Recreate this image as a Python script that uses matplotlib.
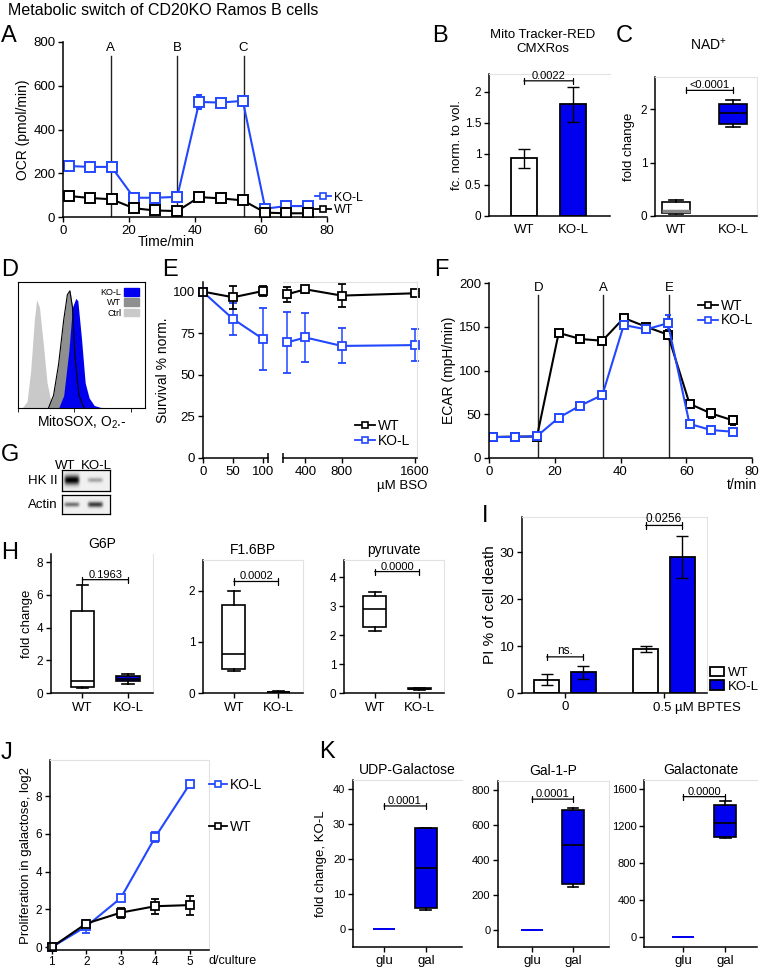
import numpy as np
import matplotlib
matplotlib.use('Agg')
import matplotlib.pyplot as plt
from matplotlib.lines import Line2D
from matplotlib.patches import Patch

plt.rcParams['font.family'] = ['Liberation Sans', 'DejaVu Sans']
plt.rcParams['mathtext.fontset'] = 'custom'
plt.rcParams['mathtext.rm'] = 'Liberation Sans'
plt.rcParams['mathtext.default'] = 'regular'

W, H = 762, 969
BLUE = '#0000ee'
LBLUE = '#2247ff'
LIGHT = '#e2e2e2'

# ---- A: OCR ----
ocr_time = [1.8, 8.1, 14.7, 21.5, 27.8, 34.6, 41.3, 47.8, 54.5, 61.3, 67.6, 74.1]
ocr_ko = [233, 229, 229, 88, 88, 92, 526, 523, 531, 38, 50, 50]
ocr_ko_err = [6, 4, 4, 4, 4, 4, 30, 12, 14, 4, 4, 4]
ocr_wt = [96, 87, 81, 40, 30, 27, 91, 85, 76, 20, 17, 17]
ocr_wt_err = [4, 4, 4, 4, 4, 4, 4, 4, 4, 3, 3, 3]
ocr_inject = [14.5, 34.6, 54.7]
ocr_inject_lab = ['A', 'B', 'C']

# ---- B: MitoTracker ----
b_groups = ['WT', 'KO-L']
b_vals = [0.93, 1.80]
b_err = [0.15, 0.28]

# ---- C: NAD+ (whislo, q1, med, q3, whishi) ----
c_wt = [0.03, 0.05, 0.09, 0.27, 0.30]
c_ko = [1.67, 1.73, 1.92, 2.10, 2.17]

# ---- D: MitoSOX histogram (decade position, relative count) ----
d_ctrl_x = [0.14, 0.32, 0.45, 0.58, 0.66, 0.76, 0.90, 1.03, 1.17, 1.30]
d_ctrl_y = [0.0, 0.05, 0.30, 0.70, 0.86, 0.80, 0.50, 0.20, 0.05, 0.0]
d_wt_x = [1.08, 1.26, 1.44, 1.62, 1.75, 1.84, 1.93, 2.02, 2.16, 2.34]
d_wt_y = [0.0, 0.10, 0.35, 0.70, 0.90, 0.93, 0.80, 0.40, 0.10, 0.0]
d_ko_x = [1.44, 1.62, 1.80, 1.93, 2.05, 2.12, 2.25, 2.38, 2.52, 2.70, 2.92, 3.40]
d_ko_y = [0.0, 0.10, 0.45, 0.80, 0.87, 0.85, 0.55, 0.20, 0.08, 0.02, 0.005, 0.0]

# ---- G: western blot band intensities ----
blot_lanes = ['WT', 'KO-L']
hk2_int = [0.95, 0.30]
actin_int = [0.50, 0.72]

# ---- E: BSO survival ----
bso = [0, 50, 100, 200, 400, 800, 1600]
surv_wt = [100.2, 96.8, 100.6, 98.6, 101.6, 97.8, 99.2]
surv_wt_err = [1.5, 6.8, 3.0, 4.5, 2.0, 7.0, 1.2]
surv_ko = [100.0, 83.7, 71.6, 69.6, 72.6, 67.5, 68.0]
surv_ko_err = [1.0, 9.5, 18.5, 18.3, 14.9, 10.5, 9.6]

# ---- F: ECAR ----
ecar_time = [1.2, 8.0, 14.6, 21.2, 27.8, 34.5, 41.0, 47.8, 54.4, 61.0, 67.5, 74.2]
ecar_wt = [24, 24.5, 24.5, 143, 136, 134, 160, 150, 141, 62, 51, 43]
ecar_wt_err = [1, 1, 1, 2, 2, 2, 2, 3, 5, 3, 5, 5]
ecar_ko = [24, 24, 25, 46, 60, 72, 152, 147, 154, 39, 32, 30]
ecar_ko_err = [1, 1, 1, 2, 2, 2, 4, 3, 9, 2, 2, 2]
ecar_inject = [15, 34.8, 54.8]
ecar_inject_lab = ['D', 'A', 'E']

# ---- H: metabolites (whislo, q1, med, q3, whishi) ----
g6p_wt = [0.30, 0.36, 0.75, 5.0, 6.62]
g6p_ko = [0.57, 0.71, 0.87, 1.07, 1.15]
f16bp_wt = [0.43, 0.47, 0.76, 1.72, 2.0]
f16bp_ko = [0.01, 0.015, 0.02, 0.025, 0.03]
pyr_wt = [2.15, 2.30, 2.90, 3.35, 3.50]
pyr_ko = [0.12, 0.14, 0.15, 0.16, 0.18]

# ---- I: BPTES ----
i_doses = ['0', '0.5']
i_wt = [2.86, 9.4]
i_wt_err = [1.25, 0.6]
i_ko = [4.4, 28.9]
i_ko_err = [1.35, 4.5]

# ---- J: galactose proliferation ----
days = [1, 2, 3, 4, 5]
prolif_ko = [0.0, 1.10, 2.60, 5.83, 8.64]
prolif_ko_err = [0.05, 0.35, 0.15, 0.25, 0.15]
prolif_wt = [0.0, 1.25, 1.83, 2.17, 2.23]
prolif_wt_err = [0.05, 0.12, 0.26, 0.40, 0.50]

# ---- K: galactose metabolites, KO-L (whislo, q1, med, q3, whishi) ----
udp_glu = [0, 0, 0, 0, 0]
udp_gal = [5.6, 6.0, 17.4, 28.9, 29.0]
gal1p_glu = [0, 0, 0, 0, 0]
gal1p_gal = [242, 261, 486, 686, 697]
galn_glu = [0, 0, 0, 0, 0]
galn_gal = [1065, 1085, 1236, 1427, 1467]


def add_ax(l, t, r, b):
    return fig.add_axes([l / W, 1 - b / H, (r - l) / W, (b - t) / H])


def ftext(x, y, s, **kw):
    fig.text(x / W, 1 - y / H, s, **kw)


def style(ax, light=(), fs=9):
    for s in ['top', 'right']:
        if s in light:
            ax.spines[s].set_color(LIGHT)
            ax.spines[s].set_linewidth(0.8)
        else:
            ax.spines[s].set_visible(False)
    for s in ['left', 'bottom']:
        ax.spines[s].set_linewidth(1.1)
    ax.tick_params(direction='out', length=3.5, width=1, pad=2, labelsize=fs)


def sig(ax, x1, x2, y, label, fs=8):
    ax.annotate('', xy=(x1, y), xytext=(x2, y), annotation_clip=False,
                arrowprops=dict(arrowstyle='|-|, widthA=0.22, widthB=0.22', lw=0.9,
                                color='black', shrinkA=0, shrinkB=0))
    ax.text((x1 + x2) / 2, y, label, ha='center', va='bottom', fontsize=fs)


def boxes(ax, stats, positions, faces, edges=None, meds=None, width=0.5):
    edges = edges or ['black'] * len(stats)
    meds = meds or edges
    for s, p, fc, ec, mc in zip(stats, positions, faces, edges, meds):
        st = dict(whislo=s[0], q1=s[1], med=s[2], q3=s[3], whishi=s[4], fliers=[])
        ax.bxp([st], positions=[p], widths=width, showfliers=False, patch_artist=True,
               manage_ticks=False, capwidths=width * 0.5,
               boxprops=dict(facecolor=fc, edgecolor=ec, lw=1.2),
               medianprops=dict(color=mc, lw=1.2 if mc == ec else 2.5),
               whiskerprops=dict(color=ec, lw=1.2), capprops=dict(color=ec, lw=1.2))


def sq_handle(col, ms=5):
    return Line2D([], [], color=col, marker='s', mfc='white', ms=ms, mew=1.2, lw=1.3)


fig = plt.figure(figsize=(W / 100, H / 100), dpi=100)

ftext(8, 3, 'Metabolic switch of CD20KO Ramos B cells', fontsize=11.5, va='top')
for lab, x, y in [('A', 1, 25), ('B', 432, 25), ('C', 616, 25), ('D', 1, 259), ('E', 162, 259),
                  ('F', 434, 259), ('G', 1, 444), ('H', 1, 542), ('I', 482, 505),
                  ('J', 1, 742), ('K', 319, 741)]:
    ftext(x, y, lab, fontsize=17, va='top')

# ================= A =================
ax = add_ax(63, 42, 327, 217)
style(ax, fs=9.5)
for xv, lab in zip(ocr_inject, ocr_inject_lab):
    ax.plot([xv, xv], [0, 735], color='#222222', lw=1)
    ax.text(xv, 772, lab, ha='center', va='center', fontsize=9.5)
ax.errorbar(ocr_time, ocr_ko, yerr=ocr_ko_err, color=LBLUE, marker='s', mfc='white', ms=6.5,
            mew=1.4, lw=1.5, capsize=2.5, elinewidth=1.2)
ax.errorbar(ocr_time, ocr_wt, yerr=ocr_wt_err, color='black', marker='s', mfc='white', ms=6.5,
            mew=1.4, lw=1.5, capsize=2.5, elinewidth=1.2)
ax.set_xlim(0, 80)
ax.set_ylim(0, 800)
ax.set_xticks([0, 20, 40, 60, 80])
ax.set_yticks([0, 200, 400, 600, 800])
ax.set_ylabel('OCR (pmol/min)', fontsize=10, labelpad=2)
ax.set_xlabel('Time/min', fontsize=10, labelpad=1)
ax.xaxis.set_label_coords(0.39, -0.1)
ax.legend(handles=[sq_handle(LBLUE), sq_handle('black')], labels=['KO-L', 'WT'],
          loc='center left', bbox_to_anchor=(0.955, 0.075), frameon=False, fontsize=9,
          handlelength=1.3, handletextpad=0.2, labelspacing=0.05, borderpad=0, borderaxespad=0)

# ================= B =================
ax = add_ax(489, 74, 610, 216)
style(ax, light=('top',), fs=8.5)
ax.bar([0, 1], b_vals, width=0.52, color=['white', BLUE], edgecolor='black', lw=1.3,
       yerr=b_err, capsize=4, error_kw=dict(lw=1, capthick=1))
ax.set_xlim(-0.714, 1.755)
ax.set_ylim(0, 2.29)
ax.set_xticks([0, 1])
ax.set_xticklabels(b_groups, fontsize=9.5)
ax.tick_params(axis='x', length=0, pad=6)
ax.set_yticks([0, 0.5, 1, 1.5, 2])
ax.set_yticklabels(['0', '0.5', '1', '1.5', '2'])
ax.set_ylabel('fc. norm. to vol.', fontsize=9.5, labelpad=1)
sig(ax, 0, 1, 2.18, '0.0022', fs=8)
ftext(543, 42, 'Mito Tracker-RED\nCMXRos', ha='center', va='center', fontsize=9.5, linespacing=1.3)

# ================= C =================
ax = add_ax(655, 77, 757, 216)
style(ax, light=('top', 'right'), fs=8.5)
boxes(ax, [c_wt, c_ko], [0, 1], ['white', BLUE], meds=['#888888', 'black'], width=0.5)
ax.set_xlim(-0.37, 1.42)
ax.set_ylim(0, 2.6)
ax.set_xticks([0, 1])
ax.set_xticklabels(b_groups, fontsize=9.5)
ax.tick_params(axis='x', length=0, pad=6)
ax.set_yticks([0, 1, 2])
ax.set_ylabel('fold change', fontsize=9.5, labelpad=4)
sig(ax, 0.18, 1, 2.35, '<0.0001', fs=8)
ftext(708, 45, r'NAD$^{+}$', ha='center', va='center', fontsize=10)

# ================= D =================
ax = add_ax(18, 282, 145, 408)
ax.set_xscale('log')
ax.fill_between(10 ** np.array(d_ctrl_x), d_ctrl_y, color='#c9c9c9', lw=0)
ax.fill_between(10 ** np.array(d_wt_x), d_wt_y, color='#8f8f8f', lw=0)
ax.plot(10 ** np.array(d_wt_x), d_wt_y, color='black', lw=0.8)
ax.fill_between(10 ** np.array(d_ko_x), d_ko_y, color=BLUE, lw=0)
ax.set_xlim(1, 10 ** 4.5)
ax.set_ylim(0, 1)
ax.set_yticks([])
ax.tick_params(axis='x', which='both', direction='out', labelbottom=False, length=2, width=0.6)
ax.tick_params(axis='x', which='major', length=3)
for s in ax.spines.values():
    s.set_linewidth(0.8)
ax.legend(handles=[Patch(color=BLUE, label='KO-L'), Patch(color='#8f8f8f', label='WT'),
                   Patch(color='#c9c9c9', label='Ctrl')],
          loc='upper right', frameon=False, fontsize=6.5, markerfirst=False, handlelength=1.7,
          handleheight=0.9, labelspacing=0.15, borderpad=0.15, handletextpad=0.3)
ftext(82, 422, r'MitoSOX, O$_2$.-', ha='center', va='center', fontsize=10)

# ================= G =================
def band_image(intens, thick, width=48, height=20):
    yy = np.linspace(-1, 1, height)[:, None]
    xx = np.linspace(0, 1, width)[None, :]
    img = np.full((height, width), 0.06)
    for c, v, t in zip([0.2, 0.7], intens, thick):
        img += v * np.exp(-(yy / t) ** 2) * np.exp(-((xx - c) / 0.16) ** 6)
    return np.clip(img, 0, 1)


for (t, b), intens, thick, lab in [((470, 491), hk2_int, [0.45, 0.22], 'HK II'),
                                   ((495, 514), actin_int, [0.25, 0.3], 'Actin')]:
    ax = add_ax(62, t, 110, b)
    ax.imshow(band_image(intens, thick), cmap='gray_r', vmin=0, vmax=1, aspect='auto',
              interpolation='bilinear')
    ax.set_xticks([])
    ax.set_yticks([])
    for s in ax.spines.values():
        s.set_linewidth(0.9)
    ftext(58, (t + b) / 2, lab, ha='right', va='center', fontsize=9.5)
for xv, lab in zip([65, 96], blot_lanes):
    ftext(xv, 466, lab, ha='center', va='center', fontsize=9.5)

# ================= E =================
axl = add_ax(203, 282, 268, 458)
axr = add_ax(283, 282, 417, 458)
style(axl, fs=9.5)
style(axr, light=('top', 'right'), fs=9.5)
axr.spines['left'].set_visible(False)
axr.tick_params(axis='y', left=False, labelleft=False)
for a, lo, hi in [(axl, 0, 108), (axr, 155, 1625)]:
    a.plot(bso, surv_ko, color=LBLUE, lw=1.5)
    a.plot(bso, surv_wt, color='black', lw=1.5)
    idx = [i for i, v in enumerate(bso) if lo <= v <= hi]
    for ys, es, col in [(surv_ko, surv_ko_err, LBLUE), (surv_wt, surv_wt_err, 'black')]:
        a.errorbar([bso[i] for i in idx], [ys[i] for i in idx], yerr=[es[i] for i in idx],
                   fmt='s', color=col, mfc='white', ms=6, mew=1.3, capsize=3, elinewidth=1.1,
                   clip_on=False)
    a.set_xlim(lo, hi)
    a.set_ylim(0, 106)
axl.set_xticks([0, 50, 100])
axl.set_yticks([0, 25, 50, 75, 100])
axr.set_xticks([400, 800, 1600])
axl.plot([1], [0], marker='|', ms=7, mew=1.1, color='black', transform=axl.transAxes, clip_on=False)
axr.plot([0], [0], marker='|', ms=7, mew=1.1, color='black', transform=axr.transAxes, clip_on=False)
axl.set_ylabel('Survival % norm.', fontsize=10, labelpad=2)
axr.text(1.08, -0.16, 'µM BSO', transform=axr.transAxes, ha='right', va='center', fontsize=9.5)
axr.legend(handles=[sq_handle('black'), sq_handle(LBLUE)],
           labels=['WT', 'KO-L'], loc='lower right', bbox_to_anchor=(1.0, 0.02), frameon=False,
           fontsize=10, handlelength=1.4, handletextpad=0.2, labelspacing=0.05, borderpad=0)

# ================= F =================
ax = add_ax(489, 283, 752, 458)
style(ax, fs=9.5)
for xv, lab in zip(ecar_inject, ecar_inject_lab):
    ax.plot([xv, xv], [0, 186], color='#222222', lw=1)
    ax.text(xv, 194, lab, ha='center', va='center', fontsize=9.5)
ax.errorbar(ecar_time, ecar_wt, yerr=ecar_wt_err, color='black', marker='s', mfc='white', ms=6,
            mew=1.4, lw=1.5, capsize=2.5, elinewidth=1.2)
ax.errorbar(ecar_time, ecar_ko, yerr=ecar_ko_err, color=LBLUE, marker='s', mfc='white', ms=6,
            mew=1.4, lw=1.5, capsize=2.5, elinewidth=1.2)
ax.set_xlim(0, 80)
ax.set_ylim(0, 200)
ax.set_xticks([0, 20, 40, 60, 80])
ax.set_yticks([0, 50, 100, 150, 200])
ax.set_ylabel('ECAR (mpH/min)', fontsize=10, labelpad=2)
ax.text(1.02, -0.155, 't/min', transform=ax.transAxes, ha='right', va='center', fontsize=10)
ax.legend(handles=[sq_handle('black'), sq_handle(LBLUE)], labels=['WT', 'KO-L'],
          loc='upper right', bbox_to_anchor=(1.03, 0.95), frameon=False, fontsize=10,
          handlelength=1.4, handletextpad=0.2, labelspacing=0.05, borderpad=0)

# ================= H =================
h_panels = [((51, 554, 153, 693), 'G6P', g6p_wt, g6p_ko, (0, 8.5), [0, 2, 4, 6, 8], 6.93, '0.1963'),
            ((203, 560, 303, 693), 'F1.6BP', f16bp_wt, f16bp_ko, (0, 2.6), [0, 1, 2], 2.18, '0.0002'),
            ((344, 560, 444, 693), 'pyruvate', pyr_wt, pyr_ko, (0, 4.6), [0, 1, 2, 3, 4], 4.2, '0.0000')]
for i, (pos, title, wt, ko, ylim, yt, sy, slab) in enumerate(h_panels):
    ax = add_ax(*pos)
    style(ax, light=('right',) if i == 0 else ('top', 'right'), fs=8.5)
    boxes(ax, [wt, ko], [0, 1], ['white', BLUE], width=0.52)
    ax.set_xlim(-0.69, 1.55)
    ax.set_ylim(*ylim)
    ax.set_yticks(yt)
    ax.set_xticks([0, 1])
    ax.set_xticklabels(b_groups, fontsize=9.5)
    ax.tick_params(axis='x', pad=3)
    sig(ax, 0, 1, sy, slab, fs=8)
    ax.set_title(title, fontsize=10, pad=4)
    if i == 0:
        ax.set_ylabel('fold change', fontsize=9.5, labelpad=3)

# ================= I =================
ax = add_ax(522, 517, 707, 693)
style(ax, light=('top', 'right'), fs=9.5)
xg = np.arange(len(i_doses))
ax.bar(xg - 0.185, i_wt, width=0.25, color='white', edgecolor='black', lw=1.3,
       yerr=i_wt_err, capsize=4, error_kw=dict(lw=1, capthick=1), label='WT')
ax.bar(xg + 0.185, i_ko, width=0.25, color=BLUE, edgecolor='black', lw=1.3,
       yerr=i_ko_err, capsize=4, error_kw=dict(lw=1, capthick=1), label='KO-L')
ax.set_xlim(-0.434, 1.434)
ax.set_ylim(0, 37.5)
ax.set_yticks([0, 10, 20, 30])
ax.set_xticks(xg)
ax.set_xticklabels(['0', ''], fontsize=9.5)
ax.text(1 - 0.11, -0.085, i_doses[1] + ' µM BPTES', transform=ax.get_xaxis_transform(),
        ha='left', va='center', fontsize=9.5)
ax.set_ylabel('PI % of cell death', fontsize=11, labelpad=2)
sig(ax, -0.185, 0.185, 7.7, 'ns.', fs=8.5)
sig(ax, 0.815, 1.185, 35.7, '0.0256', fs=8.5)
ax.legend(loc='center left', bbox_to_anchor=(0.98, 0.075), frameon=False, fontsize=9.5,
          handlelength=1.1, handleheight=0.75, handletextpad=0.3, labelspacing=0.1, borderpad=0)

# ================= J =================
ax = add_ax(50, 760, 209, 950)
style(ax, light=('top', 'right'), fs=8.5)
ax.tick_params(axis='x', length=3, pad=1)
ax.errorbar(days, prolif_ko, yerr=prolif_ko_err, color=LBLUE, marker='s', mfc='white', ms=5.5,
            mew=1.3, lw=1.5, capsize=3, elinewidth=1.1, clip_on=False)
ax.errorbar(days, prolif_wt, yerr=prolif_wt_err, color='black', marker='s', mfc='white', ms=5.5,
            mew=1.3, lw=1.5, capsize=3, elinewidth=1.1, clip_on=False)
ax.set_xlim(0.95, 5.56)
ax.set_ylim(-0.15, 9.92)
ax.set_xticks(days)
ax.set_yticks([0, 2, 4, 6, 8])
ax.set_ylabel('Proliferation in galactose, log2', fontsize=9.5, labelpad=3)
ax.text(1.0, -0.025, 'd/culture', transform=ax.transAxes, ha='left', va='top', fontsize=9)
j_labels = [('KO-L', LBLUE, 0.87), ('WT', 'black', 0.648)]
for k, (lab, col, yfrac) in enumerate(j_labels):
    lg = ax.legend(handles=[sq_handle(col)], labels=[lab], loc='center left',
                   bbox_to_anchor=(1.0, yfrac), frameon=False, fontsize=10, handlelength=1.3,
                   handletextpad=0.2, borderpad=0, borderaxespad=0)
    if k < len(j_labels) - 1:
        ax.add_artist(lg)

# ================= K =================
k_panels = [((353, 780, 462, 947), 'UDP-Galactose', udp_glu, udp_gal, (-5, 42.6), [0, 10, 20, 30, 40],
             35.2, '0.0001', (-0.74, 1.86), ('top',)),
            ((498, 781, 609, 947), 'Gal-1-P', gal1p_glu, gal1p_gal, (-100, 853), [0, 200, 400, 600, 800],
             749, '0.0001', (-0.83, 1.88), ('top', 'right')),
            ((644, 780, 757, 947), 'Galactonate', galn_glu, galn_gal, (-108, 1697), [0, 400, 800, 1200, 1600],
             1517, '0.0000', (-0.93, 1.76), ('top',))]
for i, (pos, title, glu, gal, ylim, yt, sy, slab, xl, light) in enumerate(k_panels):
    ax = add_ax(*pos)
    style(ax, light=light, fs=8)
    boxes(ax, [glu], [0], [BLUE], edges=[BLUE], width=0.52)
    boxes(ax, [gal], [1], [BLUE], width=0.52)
    ax.set_xlim(*xl)
    ax.set_ylim(*ylim)
    ax.set_yticks(yt)
    ax.set_xticks([0, 1])
    ax.set_xticklabels(['glu', 'gal'], fontsize=9.5)
    ax.tick_params(axis='x', pad=2)
    sig(ax, 0, 1, sy, slab, fs=8)
    ax.set_title(title, fontsize=10, pad=4)
    if i == 0:
        ax.set_ylabel('fold change, KO-L', fontsize=9.5, labelpad=4)

fig.savefig('out.png', dpi=100)
